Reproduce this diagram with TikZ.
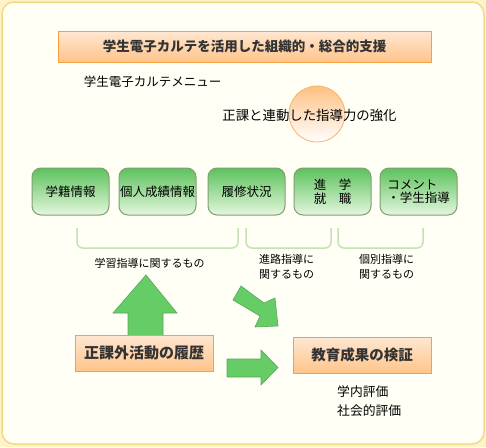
\documentclass[tikz,border=0pt]{standalone}
\usepackage{fontspec}
\setmainfont{Noto Sans CJK JP}
\usetikzlibrary{positioning}

\definecolor{pageyellow}{HTML}{FEF4C8}
\definecolor{framefill}{HTML}{FFFFF6}
\definecolor{frameline}{HTML}{F4D98A}
\definecolor{orangeline}{HTML}{F7A040}
\definecolor{orangetop}{HTML}{FFE7D2}
\definecolor{orangebot}{HTML}{FFC48A}
\definecolor{greentop}{HTML}{5CC25C}
\definecolor{greenbot}{HTML}{E4F6DE}
\definecolor{greenline}{HTML}{809F70}
\definecolor{bracketgreen}{HTML}{C2E3B2}
\definecolor{arrowgreen}{HTML}{66CC66}
\definecolor{arrowline}{HTML}{58A858}
\definecolor{darktext}{HTML}{333333}

\begin{document}
\begin{tikzpicture}[
    x=1pt, y=-1pt,
    headbox/.style={
        draw=orangeline,
        line width=1pt,
        top color=orangetop,
        bottom color=orangebot,
        text=darktext,
        font=\bfseries
    },
    menubox/.style={
        draw=greenline,
        line width=1pt,
        rounded corners=9pt,
        top color=greentop,
        bottom color=greenbot,
        minimum width=77pt,
        minimum height=47pt,
        inner sep=1pt,
        align=center,
        font=\fontsize{12.5}{13.5}\selectfont
    },
    group/.style={
        draw=bracketgreen,
        line width=1.5pt,
        rounded corners=6pt
    },
    grouplabel/.style={
        align=left,
        inner sep=0pt,
        font=\fontsize{11}{15}\selectfont
    },
    blockarrow/.style={
        fill=arrowgreen,
        draw=arrowline,
        line width=0.6pt
    }
]

\useasboundingbox (0,0) rectangle (486,447);

% frame
\fill[pageyellow] (0,0) rectangle (486,447);
\draw[frameline, fill=framefill, line width=1.5pt, rounded corners=12pt]
    (2,2) rectangle (484,444);

% title and captions
\node (title) [headbox, minimum width=373pt, minimum height=31pt,
    font=\fontsize{13.5}{16}\bfseries] at (244.5,46.5)
    {学生電子カルテを活用した組織的・総合的支援};

\node (menu) [font=\fontsize{12.5}{15}\selectfont, inner sep=0pt] at (152.5,82)
    {学生電子カルテメニュー};

\node (spot) [circle, draw=orangeline!80, line width=0.8pt,
    top color=orangebot!90!orangeline, bottom color=white,
    minimum size=56pt, inner sep=0pt] at (317,114) {};

\node (aim) [font=\fontsize{13.4}{16}\selectfont, inner sep=0pt] at (309.5,115)
    {正課と連動した指導力の強化};

% menu items
\node (seki) [menubox] at (70.5,191.5) {学籍情報};
\node (seiseki) [menubox, right=9pt of seki] {個人成績情報};
\node (rishu) [menubox, right=11pt of seiseki] {履修状況};
\node (shinro) [menubox, right=8pt of rishu] {進　学\\就　職};
\node (comment) [menubox, right=8pt of shinro, align=left]
    {コメント\\・学生指導};

% groups
\draw[group] (77,228) |- (238,248) -- (238,228);
\draw[group] (246,228) |- (331,248) -- (331,228);
\draw[group] (338,228) |- (423,248) -- (423,228);

\node (gakushu) [grouplabel] at (149.5,263) {学習指導に関するもの};
\node (shinrolbl) [grouplabel] at (286.5,266.5) {進路指導に\\関するもの};
\node (kobetsu) [grouplabel] at (386.5,266.5) {個別指導に\\関するもの};

% block arrows
\draw[blockarrow] (128,336) -- (128,313) -- (113,313) -- (146,275)
    -- (177,313) -- (163,313) -- (163,336) -- cycle;
\draw[blockarrow] (241,286) -- (264,303) -- (275,298) -- (278,326)
    -- (255,327) -- (260,316) -- (233,300) -- cycle;
\draw[blockarrow] (227,359) -- (261,359) -- (261,350) -- (278,367.5)
    -- (261,385) -- (261,377) -- (227,377) -- cycle;

% lower boxes
\node (katsudo) [headbox, minimum width=138pt, minimum height=36pt,
    font=\fontsize{15}{18}\bfseries] at (144,353) {正課外活動の履歴};
\node (kensho) [headbox, minimum width=138pt, minimum height=36pt,
    font=\fontsize{14.5}{18}\bfseries] at (362,355) {教育成果の検証};

\node (gakunai) [anchor=west, inner sep=0pt,
    font=\fontsize{12.8}{15}\selectfont] at (337,392) {学内評価};
\node (shakai) [anchor=west, inner sep=0pt,
    font=\fontsize{12.8}{15}\selectfont] at (337,411) {社会的評価};

\end{tikzpicture}
\end{document}
